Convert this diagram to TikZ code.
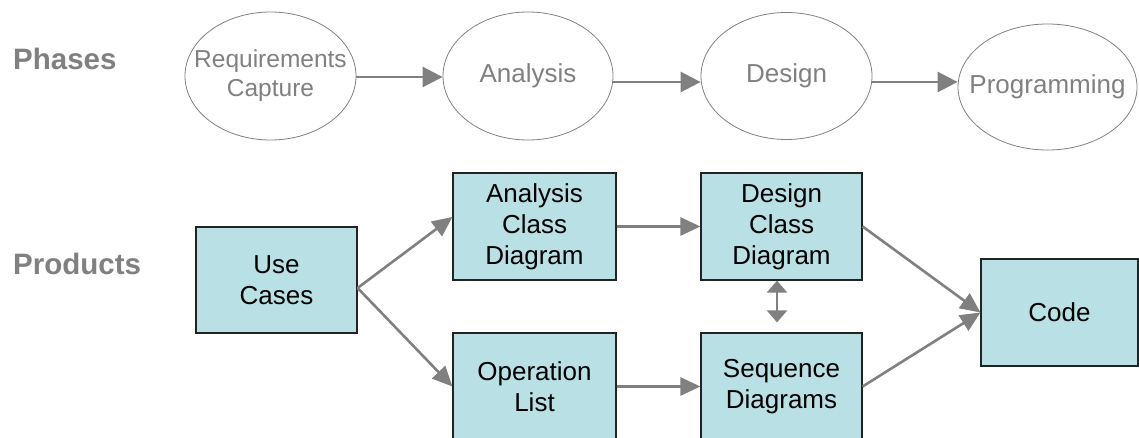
\documentclass[tikz,border=0pt]{standalone}
\usepackage{fontspec}
\setmainfont{Liberation Sans}
\usetikzlibrary{shapes.geometric,arrows.meta}
\definecolor{phasegray}{RGB}{128,128,128}
\definecolor{prodfill}{RGB}{185,224,228}
\definecolor{prodline}{RGB}{35,35,35}
\begin{document}
\begin{tikzpicture}[x=1pt,y=-1pt,
  phase/.style={ellipse,draw=phasegray,line width=0.8pt,inner sep=0pt},
  phasetext/.style={inner sep=0pt,text=phasegray,align=center,
    font=\fontsize{26}{29}\selectfont},
  product/.style={rectangle,draw=prodline,fill=prodfill,line width=1.2pt,
    inner sep=0pt,font=\fontsize{26}{31}\selectfont,align=center},
  rowlabel/.style={inner sep=0pt,text=phasegray,
    font=\bfseries\fontsize{29.5}{35}\selectfont},
  phaseflow/.style={draw=phasegray,line width=2.7pt,
    -{Triangle[length=20pt,width=20pt]}},
  prodflow/.style={draw=phasegray,line width=2.6pt,
    -{Triangle[length=20pt,width=18pt]}},
  linkflow/.style={draw=phasegray,line width=2.6pt,
    {Triangle[length=12pt,width=20pt]}-{Triangle[length=12pt,width=20pt]}}
]
\useasboundingbox (0,0) rectangle (1139,438);

% row labels
\node[rowlabel,anchor=base west] (phases) at (13,70) {Phases};
\node[rowlabel,anchor=base west] (products) at (13,274) {Products};

% phases: the ellipse outlines, with their names set in the middle
\node[phase,minimum width=171pt,minimum height=128pt] (req) at (270.5,76) {};
\node[phase,minimum width=170pt,minimum height=128pt] (ana) at (528,76) {};
\node[phase,minimum width=171pt,minimum height=127pt] (des) at (786.5,76) {};
\node[phase,minimum width=179pt,minimum height=126pt] (prg) at (1047.5,87) {};
\node[phasetext,font=\fontsize{24.5}{29}\selectfont] (req-t) at (req.center) {Requirements\\Capture};
\node[phasetext] (ana-t) at (ana.center) {Analysis};
\node[phasetext] (des-t) at (des.center) {Design};
\node[phasetext] (prg-t) at (prg.center) {Programming};

\draw[phaseflow] ([yshift=-1pt]req.east) -- ([yshift=-1pt]ana.west);
\draw[phaseflow] ([yshift=-6pt]ana.east) -- ([yshift=-6pt]des.west);
\draw[phaseflow] ([yshift=-6pt]des.east) -- ([yshift=5pt]prg.west);

% products
\node[product,minimum width=161pt,minimum height=106pt] (uc) at (276.5,280) {Use\\Cases};
\node[product,minimum width=163pt,minimum height=107pt] (acd) at (534.5,226.5) {Analysis\\Class\\Diagram};
\node[product,minimum width=161pt,minimum height=107pt] (dcd) at (781.5,226.5) {Design\\Class\\Diagram};
\node[product,minimum width=163pt,minimum height=107pt] (opl) at (534.5,386.5) {Operation\\List};
\node[product,minimum width=161pt,minimum height=107pt] (seq) at (781.5,386.5) {Sequence\\Diagrams};
\node[product,minimum width=157pt,minimum height=107pt] (code) at (1059.5,312.5) {Code};

\coordinate (ucout) at ([yshift=-8pt]uc.east);
\draw[prodflow] (ucout) -- ([yshift=9.5pt]acd.west);
\draw[prodflow] (ucout) -- (opl.west);
\draw[prodflow] (acd.east) -- (dcd.west);
\draw[prodflow] (opl.east) -- (seq.west);
\draw[prodflow] (dcd.east) -- (code.west);
\draw[prodflow] (seq.east) -- (code.west);
\draw[linkflow] ([xshift=-4.5pt]dcd.south) -- ([xshift=-4.5pt,yshift=10pt]seq.north);
\end{tikzpicture}
\end{document}
